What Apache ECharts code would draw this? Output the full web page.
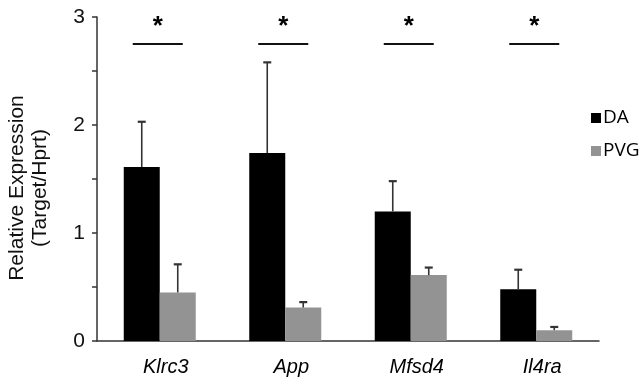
<!DOCTYPE html>
<html>
<head>
<meta charset="utf-8">
<script src="https://cdn.jsdelivr.net/npm/echarts@6/dist/echarts.min.js"></script>
<style>html,body{margin:0;padding:0;background:#fff}#c{width:642px;height:381px}</style>
</head>
<body>
<div id="c"></div>
<script>
const categories = ['Klrc3', 'App', 'Mfsd4', 'Il4ra'];
const daValues = [1.61, 1.74, 1.20, 0.48];
const daErrors = [0.42, 0.84, 0.28, 0.18];
const pvgValues = [0.45, 0.31, 0.61, 0.10];
const pvgErrors = [0.26, 0.05, 0.07, 0.03];
const sigLevel = [2.75, 2.75, 2.75, 2.75];
const sigMarks = ['*', '*', '*', '*'];
const yTicks = [0, 1, 2, 3];

const BAR_W = 36;
const FONT = '"Liberation Sans", Arial, sans-serif';

function errSeries(vals, errs, sign) {
  return {
    type: 'custom',
    z: 5,
    silent: true,
    data: vals.map((v, i) => [i, v, v + errs[i]]),
    renderItem: function (params, api) {
      const base = api.coord([api.value(0), api.value(1)]);
      const top = api.coord([api.value(0), api.value(2)]);
      const x = base[0] + sign * BAR_W / 2;
      const st = { stroke: '#333', lineWidth: 1.6 };
      return {
        type: 'group',
        children: [
          { type: 'line', shape: { x1: x, y1: base[1], x2: x, y2: top[1] }, style: st },
          { type: 'line', shape: { x1: x - 4, y1: top[1], x2: x + 4, y2: top[1] }, style: { stroke: '#333', lineWidth: 2.2 } }
        ]
      };
    }
  };
}

const chart = echarts.init(document.getElementById('c'));
chart.setOption({
  animation: false,
  backgroundColor: '#fff',
  grid: { left: 97, right: 43, top: 17, bottom: 40, containLabel: false, outerBoundsMode: 'none' },
  legend: {
    orient: 'vertical',
    left: 586,
    top: 103,
    itemWidth: 10,
    itemHeight: 10,
    itemGap: 13,
    icon: 'rect',
    textStyle: { fontFamily: '"Open Sans", sans-serif', fontSize: 19, color: '#000', lineHeight: 20, padding: [0, 0, 0, -3] },
    data: ['DA', 'PVG']
  },
  xAxis: {
    type: 'category',
    data: categories,
    axisLine: { lineStyle: { color: '#333', width: 1.5 } },
    axisTick: { show: false },
    axisLabel: { fontFamily: FONT, fontStyle: 'italic', fontSize: 20, color: '#000', margin: 16, padding: [0, 0, 0, 12] }
  },
  yAxis: {
    type: 'value',
    min: 0,
    max: 3,
    interval: 0.5,
    name: 'Relative Expression\n(Target/Hprt)',
    nameLocation: 'middle',
    nameGap: 45,
    nameTextStyle: { fontFamily: FONT, fontSize: 21, color: '#111', lineHeight: 23, padding: [0, 18, 0, 0] },
    splitLine: { show: false },
    axisLine: { show: true, lineStyle: { color: '#333', width: 1.5 } },
    axisTick: { show: true, length: 5, lineStyle: { color: '#333', width: 1.5 } },
    axisLabel: {
      fontFamily: FONT, fontSize: 21, color: '#111', margin: 12,
      formatter: v => (yTicks.indexOf(v) >= 0 ? String(v) : '')
    }
  },
  series: [
    { name: 'DA', type: 'bar', data: daValues, barWidth: BAR_W, barGap: '0%', itemStyle: { color: '#000' } },
    { name: 'PVG', type: 'bar', data: pvgValues, barWidth: BAR_W, barGap: '0%', itemStyle: { color: '#939393' } },
    errSeries(daValues, daErrors, -1),
    errSeries(pvgValues, pvgErrors, 1),
    {
      type: 'custom',
      silent: true,
      z: 6,
      data: sigLevel.map((v, i) => [i, v]),
      renderItem: function (params, api) {
        const p = api.coord([api.value(0), api.value(1)]);
        const cx = p[0] - 2;
        return {
          type: 'group',
          children: [
            { type: 'line', shape: { x1: cx - 25, y1: p[1], x2: cx + 25, y2: p[1] }, style: { stroke: '#111', lineWidth: 1.8 } },
            { type: 'text', style: { text: sigMarks[params.dataIndex], x: cx, y: p[1] - 4, align: 'center', verticalAlign: 'bottom', font: 'bold 26px "Liberation Sans", Arial, sans-serif', fill: '#000' } }
          ]
        };
      }
    }
  ]
});
</script>
</body>
</html>
